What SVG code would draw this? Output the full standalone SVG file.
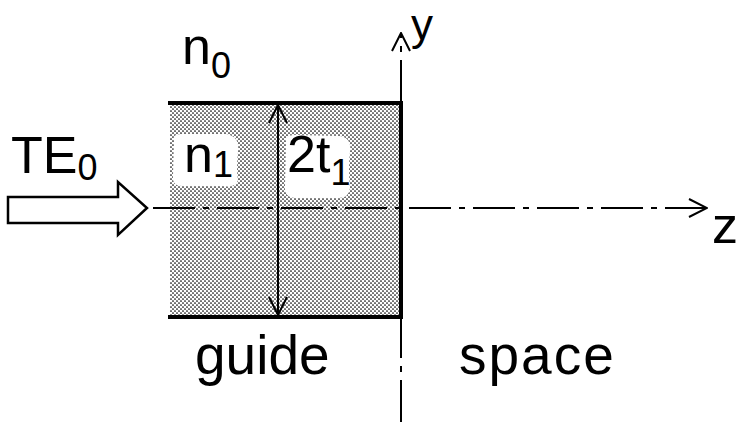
<svg xmlns="http://www.w3.org/2000/svg" width="741" height="422" viewBox="0 0 741 422">
<style>
  .lbl { font-family: "Liberation Sans", "DejaVu Sans", sans-serif; fill: #000; }
  .big { font-size: 52px; }
  .sub { font-size: 36px; }
  .axis { fill: none; stroke: #000; stroke-width: 2; stroke-dasharray: 42 8 6 8; }
  .thick { fill: none; stroke: #000; stroke-width: 4; }
  .thin { fill: none; stroke: #000; stroke-width: 2; }
</style>
<defs>
  <pattern id="stipple" width="4" height="4" patternUnits="userSpaceOnUse">
    <rect width="4" height="4" fill="#fff"/>
    <circle cx="1" cy="1" r="0.85" fill="#000"/>
    <circle cx="3" cy="3" r="0.85" fill="#000"/>
  </pattern>
  <marker id="open" viewBox="0 0 20 20" refX="19" refY="10" markerWidth="20" markerHeight="20" markerUnits="userSpaceOnUse" orient="auto-start-reverse">
    <path d="M1,1 L19,10 L1,19" fill="none" stroke="#000" stroke-width="2"/>
  </marker>
</defs>

<g id="guide-slab">
  <rect x="170" y="103" width="231" height="214" fill="url(#stipple)"/>
  <path d="M174,140 Q172,134 182,134 L226,134 Q240,136 238,152 Q236,170 238,180 Q236,188 224,186 L182,186 Q172,186 173,176 Z" fill="#fff"/>
  <path d="M286,142 Q284,135 295,135 L340,136 Q352,138 350,152 Q348,168 350,188 Q349,199 336,198 L296,198 Q284,198 285,186 Z" fill="#fff"/>
  <path d="M168,103 L401,103 L401,317 L168,317" class="thick"/>
</g>

<g id="connectors">
  <line x1="153" y1="208" x2="707" y2="208" class="axis" marker-end="url(#open)"/>
  <line x1="401" y1="422" x2="401" y2="33" class="axis" marker-end="url(#open)"/>
  <line x1="278" y1="105" x2="278" y2="315" class="thin" marker-start="url(#open)" marker-end="url(#open)"/>
</g>

<g id="input-arrow">
  <path d="M8,197 L118,197 L118,182 L147,208 L118,235 L118,223 L8,223 Z" fill="#fff" stroke="#000" stroke-width="2.5" stroke-linejoin="miter"/>
</g>

<g id="labels">
  <text class="lbl big" x="182" y="64">n<tspan class="sub" dy="14">0</tspan></text>
  <text class="lbl big" x="11" y="173">TE<tspan class="sub" dy="7">0</tspan></text>
  <text class="lbl big" x="184" y="172">n<tspan class="sub" dy="5">1</tspan></text>
  <text class="lbl big" x="287" y="172">2t<tspan class="sub" dy="13">1</tspan></text>
  <text class="lbl" x="411" y="40" style="font-size:44px">y</text>
  <text class="lbl big" x="712" y="243">z</text>
  <text class="lbl" x="195" y="374" style="font-size:55px">guide</text>
  <text class="lbl" x="459" y="374" style="font-size:55px;letter-spacing:2px">space</text>
</g>
</svg>
